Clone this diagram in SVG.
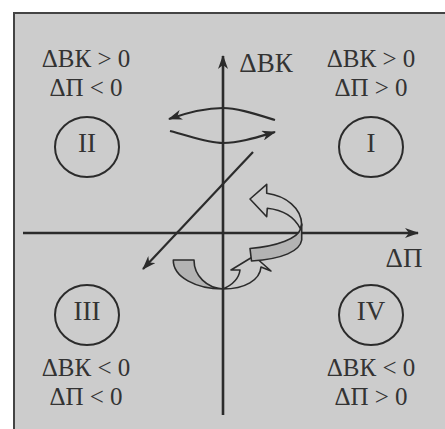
<svg xmlns="http://www.w3.org/2000/svg" width="445" height="429" viewBox="0 0 445 429">
<style>
.t{font-family:"Liberation Serif","Times New Roman",serif;font-size:27px;fill:#333;text-anchor:middle}
.c{font-family:"Liberation Serif","Times New Roman",serif;font-size:25px;fill:#333;text-anchor:middle}
.ax{stroke:#2b2b2b;stroke-width:2.6;fill:none}
.ln{stroke:#2b2b2b;stroke-width:2.2;fill:none}
.ring{stroke:#2b2b2b;stroke-width:2;fill:none}
.hol{fill:#cccccc;stroke:#2b2b2b;stroke-width:1.6;stroke-linejoin:round}
.rib{fill:#b3b3b3;stroke:#2b2b2b;stroke-width:1.6;stroke-linejoin:round}
</style>
<defs>
<marker id="ah" viewBox="0 0 14 10" refX="13" refY="5" markerWidth="14" markerHeight="10" markerUnits="userSpaceOnUse" orient="auto">
<path d="M0,0 L14,5 L0,10 L4,5 Z" fill="#2b2b2b"/>
</marker>
</defs>
<rect id="panel" x="14" y="13" width="450" height="450" fill="#cccccc" stroke="#444" stroke-width="2"/>
<g id="connectors">
<line id="axis-x" class="ax" x1="23" y1="233" x2="418" y2="233" marker-end="url(#ah)"/>
<path id="hollow-lower" class="hol" d="M223,289 C232,285 239,278 240,270 L231,270 L254,256 L271,271 L261,267 C260,280 245,289 223,289 Z"/>
<path id="ribbon-left" class="rib" d="M173.3,260 L194,260 C194,276 207,288 223,289 C196,289 173,277 173.3,260 Z"/>
<path id="hollow-upper" class="hol" d="M250,199 L266.7,184.3 L266.7,193.3 C286,196 301.7,208 301.7,225 L300.5,229 C295,218 284,210 267.3,208.3 L266.7,216.7 Z"/>
<path id="ribbon-right" class="rib" d="M301.7,224 L301.7,240 C300,251 283,259 251.5,261 L250,248.5 C278,246 298,238 300.5,229 Z"/>
<line id="axis-y" class="ax" x1="223" y1="415" x2="223" y2="56" marker-end="url(#ah)"/>
<path id="arc-upper" class="ln" d="M275,120 C252,113 236,108 223,108 C205,108 186,113 169,119" marker-end="url(#ah)"/>
<path id="arc-lower" class="ln" d="M170,131 C190,136 208,143 223,143 C240,143 258,137 275,132" marker-end="url(#ah)"/>
<line id="diagonal" class="ln" x1="253" y1="152" x2="143" y2="269" marker-end="url(#ah)"/>
</g>
<g id="axis-labels">
<text class="t" x="266" y="72">ΔВК</text>
<text class="t" x="404" y="267">ΔП</text>
</g>
<g id="q1">
<ellipse class="ring" cx="371" cy="147" rx="32" ry="30"/>
<text class="t" x="371" y="152">I</text>
<text class="c" x="371" y="67">ΔВК &gt; 0</text>
<text class="c" x="371" y="96">ΔП &gt; 0</text>
</g>
<g id="q2">
<ellipse class="ring" cx="87" cy="147" rx="32" ry="30"/>
<text class="t" x="87" y="152">II</text>
<text class="c" x="86" y="67">ΔВК &gt; 0</text>
<text class="c" x="86" y="96">ΔП &lt; 0</text>
</g>
<g id="q3">
<ellipse class="ring" cx="87" cy="315" rx="32" ry="30"/>
<text class="t" x="87" y="320">III</text>
<text class="c" x="86" y="376">ΔВК &lt; 0</text>
<text class="c" x="86" y="405">ΔП &lt; 0</text>
</g>
<g id="q4">
<ellipse class="ring" cx="371" cy="315" rx="32" ry="30"/>
<text class="t" x="371" y="320">IV</text>
<text class="c" x="371" y="376">ΔВК &lt; 0</text>
<text class="c" x="371" y="405">ΔП &gt; 0</text>
</g>
</svg>
